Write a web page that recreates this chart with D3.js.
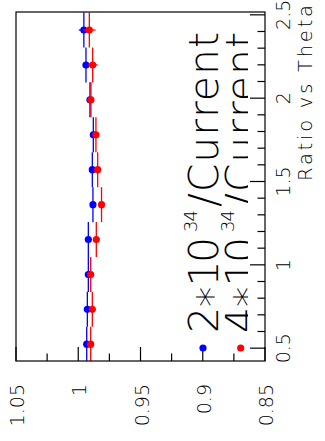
<!DOCTYPE html>
<html>
<head>
<meta charset="utf-8">
<script src="https://cdn.jsdelivr.net/npm/d3@7"></script>
<style>
  html, body { margin: 0; padding: 0; background: #fff; }
  svg { display: block; }
  text { font-family: "DejaVu Sans", "Liberation Sans", sans-serif; font-weight: 200; fill: #000; }
</style>
</head>
<body>
<script>
// Bin centres in theta (rad) and the half width of each bin
const thetaCenters = [0.524, 0.733, 0.942, 1.152, 1.361, 1.571, 1.780, 1.990, 2.199, 2.409];
const thetaBinHalfWidth = 0.105;

// Ratio per bin for the two luminosity settings, with their errors
const ratioLow  = [0.9932, 0.9927, 0.9919, 0.9919, 0.9882, 0.9887, 0.9879, 0.9906, 0.9938, 0.9955];
const errLow    = [0.0015, 0.0015, 0.0015, 0.0015, 0.0020, 0.0020, 0.0020, 0.0020, 0.0025, 0.0040];
const ratioHigh = [0.9900, 0.9887, 0.9900, 0.9855, 0.9813, 0.9844, 0.9858, 0.9898, 0.9884, 0.9911];
const errHigh   = [0.0020, 0.0020, 0.0020, 0.0020, 0.0025, 0.0025, 0.0025, 0.0025, 0.0040, 0.0050];

// Axis ticks
const ratioMajorTicks = [1.05, 1.0, 0.95, 0.9, 0.85];
const ratioMinorTicks = [1.025, 0.975, 0.925, 0.875];
const ratioTickLabels = ["1.05", "1", "0.95", "0.9", "0.85"];
const thetaMajorTicks = [0.5, 1.0, 1.5, 2.0, 2.5];
const thetaMinorTicks = [0.6, 0.7, 0.8, 0.9, 1.1, 1.2, 1.3, 1.4, 1.6, 1.7, 1.8, 1.9, 2.1, 2.2, 2.3, 2.4];
const thetaTickLabels = ["0.5", "1", "1.5", "2", "2.5"];

const W = 325, H = 441;
const frame = { left: 16, right: 265, top: 12, bottom: 361 };

const svg = d3.select("body").append("svg").attr("width", W).attr("height", H);
svg.append("rect").attr("width", W).attr("height", H).attr("fill", "#fff");

// Ratio runs horizontally (decreasing to the right), theta vertically (increasing upward)
const x = d3.scaleLinear().domain([1.05, 0.85]).range([frame.left, frame.right]);
const y = d3.scaleLinear().domain([0.423, 2.517]).range([frame.bottom, frame.top]);

svg.append("clipPath").attr("id", "plotClip").append("rect")
  .attr("x", frame.left).attr("y", frame.top)
  .attr("width", frame.right - frame.left).attr("height", frame.bottom - frame.top);

const series = [
  { vals: ratioLow, errs: errLow, color: "#0000ff" },
  { vals: ratioHigh, errs: errHigh, color: "#ff0000" }
];

const plot = svg.append("g").attr("clip-path", "url(#plotClip)");
series.forEach(s => {
  const g = plot.append("g");
  const pts = thetaCenters.map((t, i) => ({ t, r: s.vals[i], e: s.errs[i] }));
  // bin-width bars
  g.selectAll("line.bin").data(pts).join("line")
    .attr("x1", d => x(d.r)).attr("x2", d => x(d.r))
    .attr("y1", d => y(d.t - thetaBinHalfWidth)).attr("y2", d => y(d.t + thetaBinHalfWidth))
    .attr("stroke", s.color).attr("stroke-width", 1.3);
  // ratio error bars
  g.selectAll("line.err").data(pts).join("line")
    .attr("x1", d => x(d.r + d.e)).attr("x2", d => x(d.r - d.e))
    .attr("y1", d => y(d.t)).attr("y2", d => y(d.t))
    .attr("stroke", s.color).attr("stroke-width", 1.3);
  g.selectAll("circle").data(pts).join("circle")
    .attr("cx", d => x(d.r)).attr("cy", d => y(d.t)).attr("r", 3.6)
    .attr("fill", s.color);
});

// Frame
const axisColor = "#000";
svg.append("rect")
  .attr("x", frame.left).attr("y", frame.top)
  .attr("width", frame.right - frame.left).attr("height", frame.bottom - frame.top)
  .attr("fill", "none").attr("stroke", axisColor).attr("stroke-width", 1.2);

// Ratio ticks along the bottom edge
svg.append("g").selectAll("line").data(ratioMajorTicks).join("line")
  .attr("x1", d => x(d)).attr("x2", d => x(d))
  .attr("y1", frame.bottom).attr("y2", frame.bottom - 14)
  .attr("stroke", axisColor).attr("stroke-width", 1.2);
svg.append("g").selectAll("line").data(ratioMinorTicks).join("line")
  .attr("x1", d => x(d)).attr("x2", d => x(d))
  .attr("y1", frame.bottom).attr("y2", frame.bottom - 7.5)
  .attr("stroke", axisColor).attr("stroke-width", 1.2);

// Theta ticks along the right edge
svg.append("g").selectAll("line").data(thetaMajorTicks).join("line")
  .attr("y1", d => y(d)).attr("y2", d => y(d))
  .attr("x1", frame.right).attr("x2", frame.right - 15)
  .attr("stroke", axisColor).attr("stroke-width", 1.2);
svg.append("g").selectAll("line").data(thetaMinorTicks).join("line")
  .attr("y1", d => y(d)).attr("y2", d => y(d))
  .attr("x1", frame.right).attr("x2", frame.right - 7.5)
  .attr("stroke", axisColor).attr("stroke-width", 1.2);

// All text is set in a frame rotated by -90deg: local (u, v) -> screen (v, -u)
const rot = svg.append("g").attr("transform", "rotate(-90)");

rot.selectAll("text.rlab").data(ratioMajorTicks).join("text")
  .attr("class", "rlab")
  .attr("x", -384).attr("y", d => x(d) + 8)
  .attr("text-anchor", "end").attr("font-size", 19)
  .text((d, i) => ratioTickLabels[i]);

rot.selectAll("text.tlab").data(thetaMajorTicks).join("text")
  .attr("class", "tlab")
  .attr("x", d => -y(d)).attr("y", 290)
  .attr("text-anchor", "middle").attr("font-size", 19)
  .text((d, i) => thetaTickLabels[i]);

rot.append("text")
  .attr("x", -181).attr("y", 312)
  .attr("font-size", 19.5)
  .attr("textLength", 176).attr("lengthAdjust", "spacing")
  .text("Ratio vs Theta");

// Legend
svg.append("clipPath").attr("id", "legendClip").append("rect")
  .attr("x", 0).attr("y", 0).attr("width", 248).attr("height", H);

const legendEntries = [
  { prefix: "2\u221710", color: "#0000ff", baseline: 218 },
  { prefix: "4\u221710", color: "#ff0000", baseline: 255 }
];
const legend = svg.append("g").attr("clip-path", "url(#legendClip)");
const legendRot = legend.append("g").attr("transform", "rotate(-90)");
legendEntries.forEach(e => {
  legendRot.append("text")
    .attr("x", -333).attr("y", e.baseline)
    .attr("font-size", 41)
    .attr("textLength", 96).attr("lengthAdjust", "spacing")
    .text(e.prefix);
  legendRot.append("text")
    .attr("x", -232).attr("y", e.baseline - 21)
    .attr("font-size", 18)
    .attr("textLength", 22).attr("lengthAdjust", "spacing")
    .text("34");
  legendRot.append("text")
    .attr("x", -207).attr("y", e.baseline)
    .attr("font-size", 41)
    .attr("textLength", 175).attr("lengthAdjust", "spacing")
    .text("/Current");
  svg.append("circle")
    .attr("cx", e.baseline - 15 + (e.baseline > 230 ? 0.7 : 0)).attr("cy", 348)
    .attr("r", 3.6).attr("fill", e.color);
});
</script>
</body>
</html>
